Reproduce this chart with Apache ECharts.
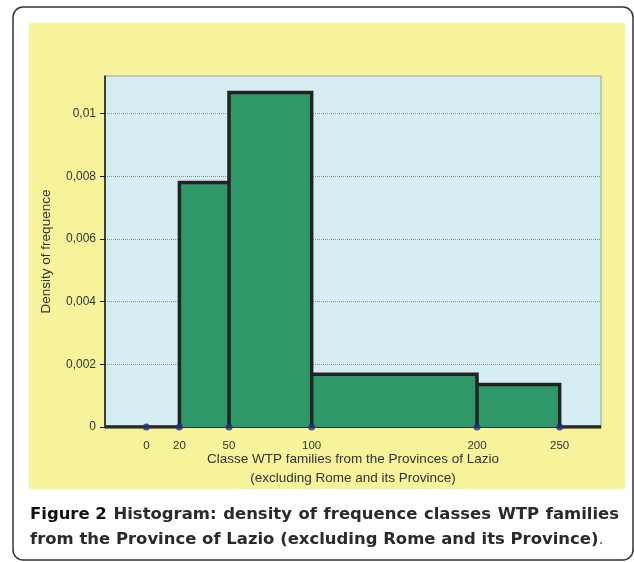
<!DOCTYPE html>
<html><head><meta charset="utf-8">
<script src="https://cdn.jsdelivr.net/npm/echarts@6/dist/echarts.min.js"></script>
<style>html,body{margin:0;padding:0;background:#fff}#c{width:634px;height:562px}</style>
</head><body><div id="c"></div>
<script>
// class boundaries (WTP classes) and densities
const binEdges = [20, 50, 100, 200, 250];
const densities = [0.0078, 0.01067, 0.00168, 0.00136];
const xTickLabels = [0, 20, 50, 100, 200, 250];
const yTickValues = [0, 0.002, 0.004, 0.006, 0.008, 0.01];
const xRange = [-25, 275];
const yMax = 0.0112;
const captionBold = 'Figure 2';
const captionLine1 = 'Histogram: density of frequence classes WTP families';
const captionLine2 = 'from the Province of Lazio (excluding Rome and its Province)';

// outline of histogram (step line)
const outline = [[xRange[0], 0], [binEdges[0], 0]];
for (let i = 0; i < densities.length; i++) {
  outline.push([binEdges[i], densities[i]]);
  outline.push([binEdges[i + 1], densities[i]]);
  outline.push([binEdges[i + 1], 0]);
}
outline.push([xRange[1], 0]);
const dots = xTickLabels.map(v => [v, 0]);

// caption layout: fit line 2 to ~575px, justify line 1 to 589px
const capFamily = '"DejaVu Sans", sans-serif';
const ctx = document.createElement('canvas').getContext('2d');
function w(text, size, weight) { ctx.font = weight + ' ' + size + 'px ' + capFamily; return ctx.measureText(text).width; }
const l2w = w(captionLine2 + '.', 16, 'bold');
const capSize = Math.max(12, Math.min(17, 16 * 575 / l2w));
const capEls = [];
{
  let x = 30;
  const boldW = w(captionBold, capSize, 'bold');
  capEls.push({ type: 'text', z: 5, x: x, y: 515, style: { text: captionBold, fontFamily: capFamily, fontWeight: 'bold', fontSize: capSize, fill: '#111', verticalAlign: 'middle' } });
  x += boldW;
  const rest = captionLine1.split(' ');
  const restW = rest.map(t => w(t, capSize, 'bold'));
  const gap = (589 - boldW - restW.reduce((a, b) => a + b, 0)) / rest.length;
  rest.forEach((t, i) => {
    x += gap;
    capEls.push({ type: 'text', z: 5, x: x, y: 515, style: { text: t, fontFamily: capFamily, fontWeight: 'bold', fontSize: capSize, fill: '#2a2a2a', verticalAlign: 'middle' } });
    x += restW[i];
  });
  capEls.push({ type: 'text', z: 5, x: 30, y: 540, style: { text: '{b|' + captionLine2 + '}{c|.}', verticalAlign: 'middle',
    rich: { b: { fontFamily: capFamily, fontWeight: 'bold', fontSize: capSize, fill: '#2a2a2a' },
            c: { fontFamily: capFamily, fontWeight: 'normal', fontSize: capSize, fill: '#666' } } } });
}

const chart = echarts.init(document.getElementById('c'));
const font = 'Liberation Sans, Arial, sans-serif';
chart.setOption({
  backgroundColor: '#ffffff',
  animation: false,
  graphic: [
    { type: 'rect', z: -10, shape: { x: 13, y: 7, width: 620, height: 553, r: 10 },
      style: { fill: '#ffffff', stroke: '#333333', lineWidth: 1.5 } },
    { type: 'rect', z: -9, shape: { x: 29, y: 23, width: 596, height: 466 },
      style: { fill: '#f7f39b' } }
  ].concat(capEls),
  grid: { left: 105, top: 76, right: 33, bottom: 135, show: true,
    backgroundColor: '#d5ecf3', borderColor: '#9aa3a8', borderWidth: 1 },
  xAxis: {
    type: 'value', min: xRange[0], max: xRange[1], z: 10,
    axisLine: { show: true, onZero: true, lineStyle: { color: '#333', width: 1 } },
    axisTick: { show: false },
    splitLine: { show: false },
    axisLabel: { customValues: xTickLabels, color: '#333', fontSize: 11.5, fontFamily: font, margin: 13 },
    name: 'Classe WTP families from the Provinces of Lazio\n(excluding Rome and its Province)',
    nameLocation: 'middle', nameGap: 23, nameMoveOverlap: false,
    nameTextStyle: { color: '#333', fontSize: 13.5, fontFamily: font, lineHeight: 19 }
  },
  yAxis: {
    type: 'value', min: 0, max: yMax,
    axisLine: { show: true, onZero: false, lineStyle: { color: '#111', width: 1.5 } },
    axisTick: { show: true, customValues: yTickValues, length: 5, lineStyle: { color: '#111' } },
    splitLine: { show: true, lineStyle: { color: '#8a9298', type: 'dotted', width: 1 } },
    axisLabel: { customValues: yTickValues, color: '#333', fontSize: 12, fontFamily: font, margin: 9,
      formatter: v => String(+(+v).toFixed(4)).replace('.', ',') },
    name: 'Density of frequence', nameLocation: 'middle', nameGap: 52,
    nameTextStyle: { color: '#333', fontSize: 13.5, fontFamily: font }
  },
  series: [
    { type: 'line', data: outline, symbol: 'none', z: 3,
      lineStyle: { color: '#222', width: 3.5, join: 'miter' },
      areaStyle: { color: '#2e9868', opacity: 1 } },
    { type: 'scatter', data: dots, symbolSize: 7, z: 11,
      itemStyle: { color: '#23307f' } }
  ]
});
</script></body></html>
